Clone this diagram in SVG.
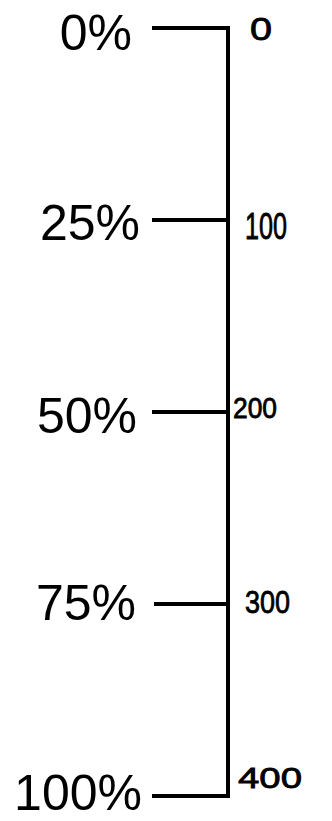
<svg xmlns="http://www.w3.org/2000/svg" width="332" height="821" viewBox="0 0 332 821">
<style>
.pct{font-family:"Liberation Sans",Arial,sans-serif;font-size:50px;fill:#000;text-anchor:end}
.val{font-family:"Liberation Sans",Arial,sans-serif;fill:#000;stroke:#000;stroke-width:0.8}
.ln{stroke:#000;stroke-width:4;fill:none;stroke-linecap:butt;stroke-linejoin:miter}
</style>
<rect width="332" height="821" fill="#fff"/>
<g id="connectors">
<path class="ln" d="M152 28 H228 V796 H152"/>
<line class="ln" x1="152" y1="220" x2="228" y2="220"/>
<line class="ln" x1="152" y1="412" x2="228" y2="412"/>
<line class="ln" x1="154" y1="604" x2="228" y2="604"/>
</g>
<g id="n0"><text class="pct" x="132" y="50">0%</text><text class="val" x="250" y="40" font-size="32" textLength="22" lengthAdjust="spacingAndGlyphs">0</text></g>
<g id="n25"><text class="pct" x="140" y="240">25%</text><text class="val" x="245" y="239" font-size="36" textLength="42" lengthAdjust="spacingAndGlyphs">100</text></g>
<g id="n50"><text class="pct" x="137" y="433">50%</text><text class="val" x="233" y="418" font-size="29" textLength="44" lengthAdjust="spacingAndGlyphs">200</text></g>
<g id="n75"><text class="pct" x="136" y="620">75%</text><text class="val" x="245" y="613" font-size="32" textLength="45" lengthAdjust="spacingAndGlyphs">300</text></g>
<g id="n100"><text class="pct" x="142" y="810">100%</text><text class="val" x="238" y="788" font-size="30" textLength="64" lengthAdjust="spacingAndGlyphs">400</text></g>
</svg>
